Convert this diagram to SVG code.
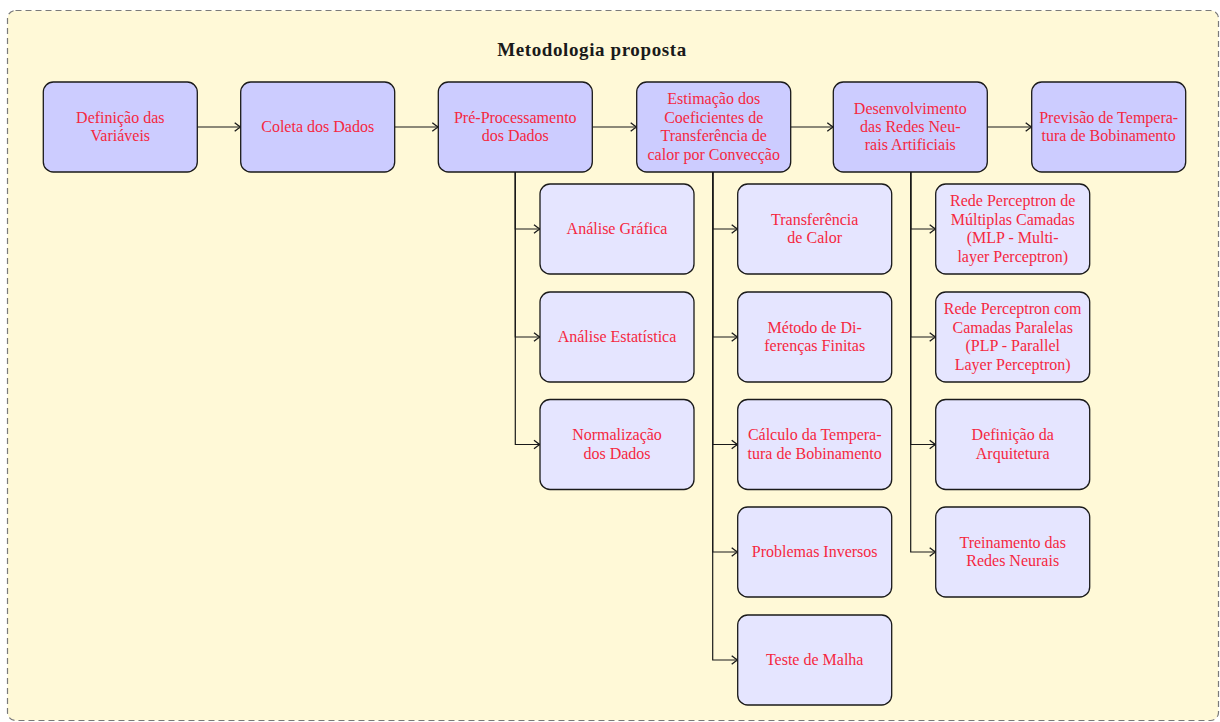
<svg xmlns="http://www.w3.org/2000/svg" width="1220" height="722" viewBox="0 0 1220 722">
<defs>
<style>
.bg{fill:#FFF9D7;stroke:#7A7A7A;stroke-width:1.2;stroke-dasharray:6 4}
.main rect{fill:#CCCCFF;stroke:#1a1a1a;stroke-width:1.3}
.sub rect{fill:#E5E5FF;stroke:#1a1a1a;stroke-width:1.3}
text{font-family:"Liberation Serif","Times New Roman",serif;font-size:16px;fill:#F5283F;text-anchor:middle}
.title{font-weight:bold;font-size:19px;letter-spacing:0.6px;fill:#1a1a1a}
.conn path{fill:none;stroke:#1a1a1a;stroke-width:1.2;marker-end:url(#arr)}
</style>
<marker id="arr" markerUnits="userSpaceOnUse" markerWidth="12" markerHeight="12" viewBox="-7 -5 8 10" refX="0" refY="0" orient="auto">
<path d="M-5,-3.6 Q-1.5,-0.8 0,0 Q-1.5,0.8 -5,3.6" fill="none" stroke="#1a1a1a" stroke-width="1.1"/>
</marker>
</defs>
<rect class="bg" x="7.5" y="10.5" width="1211" height="710" rx="8"/>
<text class="title" x="592" y="56">Metodologia proposta</text>

<g class="conn">
<path d="M197.3,127 H240.7"/>
<path d="M395,127 H438.3"/>
<path d="M592.3,127 H636.7"/>
<path d="M790.7,127 H833.3"/>
<path d="M987.3,127 H1031.7"/>
<path d="M515.3,172 V229 H540"/>
<path d="M515.3,172 V337 H540"/>
<path d="M515.3,172 V444.5 H540"/>
<path d="M712.7,172 V229 H737.7"/>
<path d="M712.7,172 V337 H737.7"/>
<path d="M712.7,172 V444.5 H737.7"/>
<path d="M712.7,172 V552 H737.7"/>
<path d="M712.7,172 V660 H737.7"/>
<path d="M910.7,172 V229 H935.7"/>
<path d="M910.7,172 V337 H935.7"/>
<path d="M910.7,172 V444.5 H935.7"/>
<path d="M910.7,172 V552 H935.7"/>
</g>

<g id="n1" class="main"><rect x="43.3" y="82" width="154" height="90" rx="10"/>
<text x="120.3" y="122.8">Definição das</text><text x="120.3" y="141.2">Variáveis</text></g>
<g id="n2" class="main"><rect x="240.7" y="82" width="154" height="90" rx="10"/>
<text x="317.7" y="132">Coleta dos Dados</text></g>
<g id="n3" class="main"><rect x="438.3" y="82" width="154" height="90" rx="10"/>
<text x="515.3" y="122.8">Pré-Processamento</text><text x="515.3" y="141.2">dos Dados</text></g>
<g id="n4" class="main"><rect x="636.7" y="82" width="154" height="90" rx="10"/>
<text x="713.7" y="104.4">Estimação dos</text><text x="713.7" y="122.8">Coeficientes de</text><text x="713.7" y="141.2">Transferência de</text><text x="713.7" y="159.6">calor por Convecção</text></g>
<g id="n5" class="main"><rect x="833.3" y="82" width="154" height="90" rx="10"/>
<text x="910.3" y="113.6">Desenvolvimento</text><text x="910.3" y="132">das Redes Neu-</text><text x="910.3" y="150.4">rais Artificiais</text></g>
<g id="n6" class="main"><rect x="1031.7" y="82" width="154" height="90" rx="10"/>
<text x="1108.7" y="122.8">Previsão de Tempera-</text><text x="1108.7" y="141.2">tura de Bobinamento</text></g>

<g id="a1" class="sub"><rect x="540" y="184" width="154" height="90" rx="10"/>
<text x="617" y="234">Análise Gráfica</text></g>
<g id="a2" class="sub"><rect x="540" y="292" width="154" height="90" rx="10"/>
<text x="617" y="342">Análise Estatística</text></g>
<g id="a3" class="sub"><rect x="540" y="399.5" width="154" height="90" rx="10"/>
<text x="617" y="440.3">Normalização</text><text x="617" y="458.7">dos Dados</text></g>

<g id="b1" class="sub"><rect x="737.7" y="184" width="154" height="90" rx="10"/>
<text x="814.7" y="224.8">Transferência</text><text x="814.7" y="243.2">de Calor</text></g>
<g id="b2" class="sub"><rect x="737.7" y="292" width="154" height="90" rx="10"/>
<text x="814.7" y="332.8">Método de Di-</text><text x="814.7" y="351.2">ferenças Finitas</text></g>
<g id="b3" class="sub"><rect x="737.7" y="399.5" width="154" height="90" rx="10"/>
<text x="814.7" y="440.3">Cálculo da Tempera-</text><text x="814.7" y="458.7">tura de Bobinamento</text></g>
<g id="b4" class="sub"><rect x="737.7" y="507" width="154" height="90" rx="10"/>
<text x="814.7" y="557">Problemas Inversos</text></g>
<g id="b5" class="sub"><rect x="737.7" y="615" width="154" height="90" rx="10"/>
<text x="814.7" y="665">Teste de Malha</text></g>

<g id="c1" class="sub"><rect x="935.7" y="184" width="154" height="90" rx="10"/>
<text x="1012.7" y="206.4">Rede Perceptron de</text><text x="1012.7" y="224.8">Múltiplas Camadas</text><text x="1012.7" y="243.2">(MLP - Multi-</text><text x="1012.7" y="261.6">layer Perceptron)</text></g>
<g id="c2" class="sub"><rect x="935.7" y="292" width="154" height="90" rx="10"/>
<text x="1012.7" y="314.4">Rede Perceptron com</text><text x="1012.7" y="332.8">Camadas Paralelas</text><text x="1012.7" y="351.2">(PLP - Parallel</text><text x="1012.7" y="369.6">Layer Perceptron)</text></g>
<g id="c3" class="sub"><rect x="935.7" y="399.5" width="154" height="90" rx="10"/>
<text x="1012.7" y="440.3">Definição da</text><text x="1012.7" y="458.7">Arquitetura</text></g>
<g id="c4" class="sub"><rect x="935.7" y="507" width="154" height="90" rx="10"/>
<text x="1012.7" y="547.8">Treinamento das</text><text x="1012.7" y="566.2">Redes Neurais</text></g>
</svg>
